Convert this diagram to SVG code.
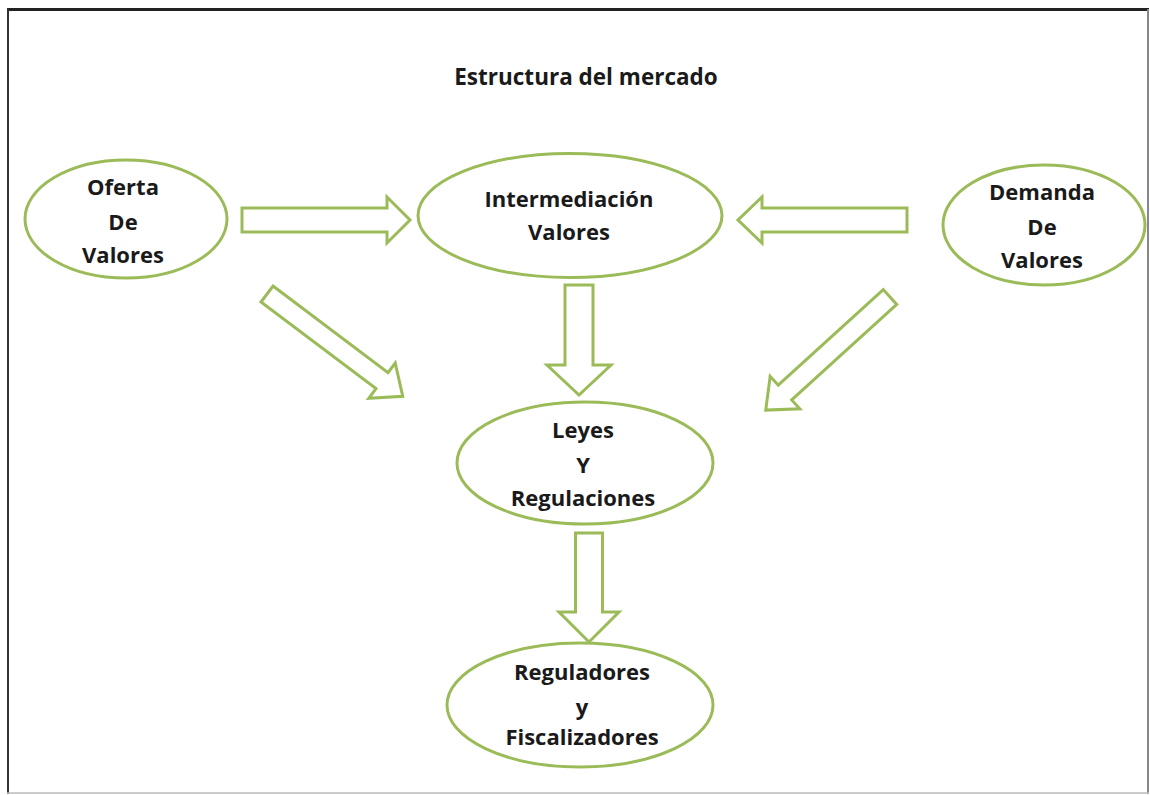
<svg xmlns="http://www.w3.org/2000/svg" width="1150" height="795" viewBox="0 0 1150 795">
<style>
.node ellipse{fill:#ffffff;stroke:#9bbb59;stroke-width:3}
.node text,.title{font-family:"Open Sans","Liberation Sans",sans-serif;font-weight:bold;font-size:22px;fill:#1a1a1a;text-anchor:middle}
.title{font-size:22.5px}
.arrow{fill:#ffffff;stroke:#9bbb59;stroke-width:3;stroke-linejoin:miter}
</style>
<rect x="0" y="0" width="1150" height="795" fill="#ffffff"/>
<g id="frame">
<line x1="7" y1="9.5" x2="1149" y2="9.5" stroke="#222" stroke-width="3"/>
<line x1="8" y1="9" x2="8" y2="794" stroke="#333" stroke-width="2"/>
<line x1="1148" y1="9" x2="1148" y2="794" stroke="#888" stroke-width="2"/>
<line x1="7" y1="793" x2="1149" y2="793" stroke="#bbb" stroke-width="1.5"/>
</g>
<text class="title" x="586" y="85">Estructura del mercado</text>
<g id="connectors">
<path class="arrow" transform="translate(242,220)" d="M0,-12 H145 V-23 L168,0 L145,23 V12 H0 Z"/>
<path class="arrow" transform="translate(907,220) rotate(180)" d="M0,-12 H145 V-23 L169,0 L145,23 V12 H0 Z"/>
<path class="arrow" transform="translate(579,285) rotate(90)" d="M0,-14 H80 V-32 L110,0 L80,32 V14 H0 Z"/>
<path class="arrow" transform="translate(589,533) rotate(90)" d="M0,-13.5 H79 V-30 L109,0 L79,30 V13.5 H0 Z"/>
<path class="arrow" transform="translate(267,294) rotate(37)" d="M0,-10 H144 V-22 L170,0 L144,22 V10 H0 Z"/>
<path class="arrow" transform="translate(890,297) rotate(137.7)" d="M0,-10 H142 V-22 L168,0 L142,22 V10 H0 Z"/>
</g>
<g id="oferta" class="node">
<ellipse cx="126" cy="219" rx="101" ry="59"/>
<text x="123" y="195">Oferta</text>
<text x="123" y="230">De</text>
<text x="123" y="263">Valores</text>
</g>
<g id="intermediacion" class="node">
<ellipse cx="570" cy="215.5" rx="152" ry="62"/>
<text x="569" y="207">Intermediación</text>
<text x="569" y="240">Valores</text>
</g>
<g id="demanda" class="node">
<ellipse cx="1044" cy="225" rx="101" ry="60"/>
<text x="1042" y="200">Demanda</text>
<text x="1042" y="235">De</text>
<text x="1042" y="268">Valores</text>
</g>
<g id="leyes" class="node">
<ellipse cx="585" cy="463" rx="128" ry="61"/>
<text x="583" y="438">Leyes</text>
<text x="583" y="473">Y</text>
<text x="583" y="506">Regulaciones</text>
</g>
<g id="reguladores" class="node">
<ellipse cx="580" cy="705" rx="133" ry="62"/>
<text x="582" y="680">Reguladores</text>
<text x="582" y="715">y</text>
<text x="582" y="745">Fiscalizadores</text>
</g>
</svg>
